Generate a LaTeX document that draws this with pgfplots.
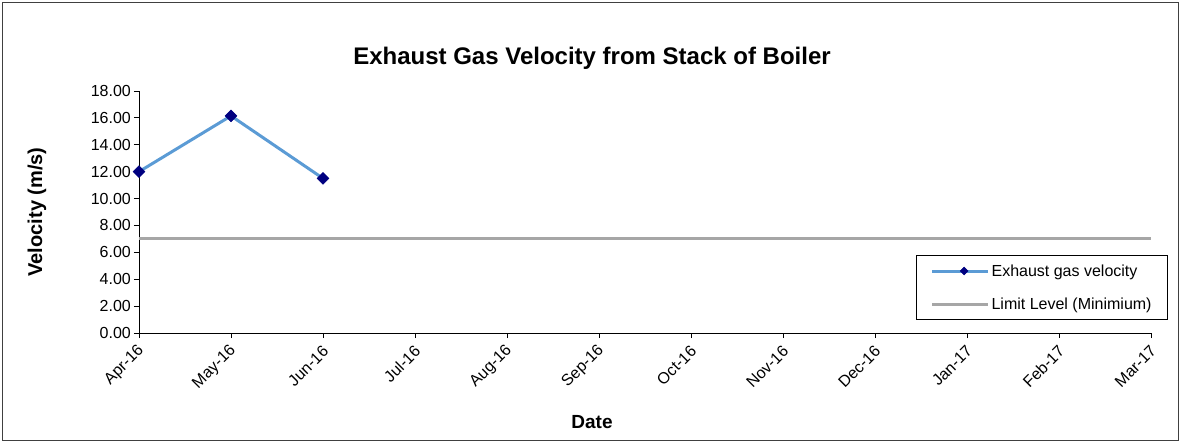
\documentclass[border=0pt]{standalone}
\usepackage{fontspec}
\setmainfont{Liberation Sans}
\usepackage{pgfplots}
\pgfplotsset{compat=1.18}
\definecolor{serblue}{RGB}{91,155,213}
\definecolor{navyblue}{RGB}{0,0,128}
\definecolor{limgray}{RGB}{166,166,166}
\begin{document}
\begin{tikzpicture}
\path[use as bounding box] (-139bp,-112bp) rectangle (1042bp,333bp);
\draw[black!75, line width=0.8bp] (-137bp,-107bp) rectangle (1039bp,331bp);
\begin{axis}[
  at={(0,0)}, anchor=south west,
  scale only axis, width=1012bp, height=242bp,
  xmin=0, xmax=11, ymin=0, ymax=18,
  axis lines*=left,
  axis line style={black, line width=0.8bp},
  tick style={black, line width=0.8bp},
  tick align=outside, major tick length=5bp,
  xtick={0,...,11},
  xticklabels={Apr-16,May-16,Jun-16,Jul-16,Aug-16,Sep-16,Oct-16,Nov-16,Dec-16,Jan-17,Feb-17,Mar-17},
  xticklabel style={xshift=4bp, yshift=-9bp, rotate=45, anchor=east, inner sep=2bp, font=\fontsize{16bp}{19bp}\selectfont},
  ytick={0,2,...,18},
  yticklabel style={font=\fontsize{16bp}{19bp}\selectfont, inner sep=3bp},
  /pgf/number format/.cd, fixed, fixed zerofill, precision=2, assume math mode=true,
  /pgfplots/.cd,
  legend style={at={(1.0168,0.322)}, anchor=north east, draw=black, line width=0.8bp,
    font=\fontsize{16bp}{19bp}\selectfont, row sep=16bp, inner xsep=14bp, inner ysep=7bp},
  legend cell align=left,
  legend image code/.code={\path (-8bp,0bp) -- (48bp,0bp);
     \draw[#1, mark=none, line width=3bp] (0bp,0bp) -- (48bp,0bp);
     \draw[#1, only marks, mark size=2.8bp, line width=0bp] plot coordinates {(24bp,0bp)};},
  clip=false,
]
\addplot[serblue, line width=3bp, mark=square*, mark size=4.2bp,
  mark options={navyblue, fill=navyblue, rotate=45, line width=0.5bp}]
  coordinates {(0,12.0) (1,16.15) (2,11.5)};
\addlegendentry{Exhaust gas velocity}
\addplot[limgray, line width=3bp, mark=none]
  coordinates {(0,7) (1,7) (2,7) (3,7) (4,7) (5,7) (6,7) (7,7) (8,7) (9,7) (10,7) (11,7)};
\addlegendentry{Limit Level (Minimium)}
\end{axis}
\node[font=\bfseries\fontsize{24bp}{28bp}\selectfont] at (453bp,275bp) {Exhaust Gas Velocity from Stack of Boiler};
\node[font=\bfseries\fontsize{19bp}{22bp}\selectfont] at (453bp,-89bp) {Date};
\node[font=\bfseries\fontsize{20bp}{24bp}\selectfont, rotate=90] at (-102bp,121bp) {Velocity (m/s)};
\end{tikzpicture}
\end{document}
